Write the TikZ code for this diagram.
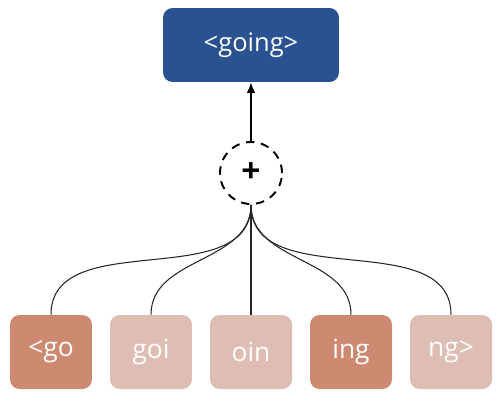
\documentclass[tikz,border=0pt]{standalone}
\usepackage{fontspec}
\setmainfont{Open Sans}
\setsansfont{Open Sans}
\usetikzlibrary{arrows.meta}

\definecolor{wordblue}{RGB}{42,82,145}
\definecolor{gramdark}{RGB}{205,138,113}
\definecolor{gramlight}{RGB}{222,190,180}

\tikzset{
  wordbox/.style={draw=none,fill=wordblue,rounded corners=5.5pt,minimum width=3.52cm,minimum height=1.48cm,text=white,font=\sffamily\fontsize{14.5}{17}\selectfont},
  grambox/.style={draw=none,rounded corners=5.5pt,minimum width=1.64cm,minimum height=1.48cm,text=white,font=\sffamily\fontsize{15}{18}\selectfont},
  sumnode/.style={circle,draw,line width=1.1pt,dash pattern=on 4.8pt off 3.8pt,minimum size=1.24cm,inner sep=0pt,font=\sffamily\bfseries\fontsize{19}{21}\selectfont},
  link/.style={line width=.6pt,black!85}
}

\begin{document}
\begin{tikzpicture}[x=0.02cm,y=-0.02cm]
  \useasboundingbox (0,0) rectangle (502,402);

  \node[wordbox] (going) at (251,45) {<going>};
  \node[sumnode] (sum) at (251,173) {+};
  \draw[line width=1.1pt,-{Latex[length=6pt,width=5pt]}] (sum.north) -- (going.south);

  \foreach \x/\g/\t/\c in {51/g1/{<go}/gramdark,151/g2/goi/gramlight,251/g3/oin/gramlight,351/g4/ing/gramdark,451/g5/{ng>}/gramlight} {
    \node[grambox,fill=\c] (\g) at (\x,352) {\t};
    \draw[link] (\g.north) to[out=90,in=-90] (sum.south);
  }
\end{tikzpicture}
\end{document}
